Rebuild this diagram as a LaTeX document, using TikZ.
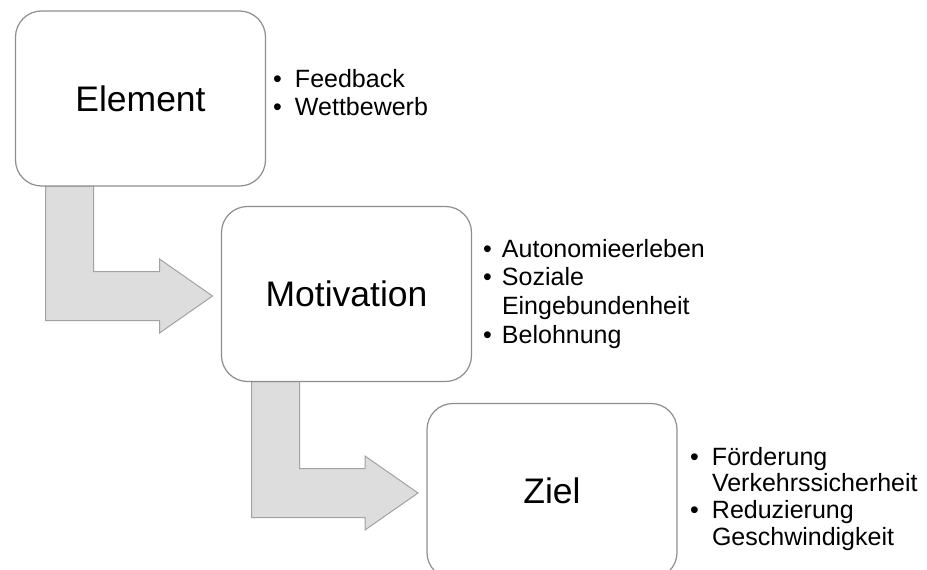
\documentclass[tikz,border=0pt]{standalone}
\usepackage{fontspec}
\setmainfont{Liberation Sans}
\usetikzlibrary{calc}

\definecolor{boxline}{HTML}{8E8E8E}
\definecolor{arrowfill}{HTML}{DDDDDD}
\definecolor{arrowline}{HTML}{A2A2A2}

\pgfdeclarelayer{back}
\pgfsetlayers{back,main}

\tikzset{
  stagebox/.style={draw=boxline, fill=white, line width=1.2pt, rounded corners=26pt,
    minimum width=250pt, minimum height=175pt, inner sep=0pt, outer sep=0pt,
    font=\fontsize{35.5}{42}\selectfont},
  bulletlist/.style={anchor=base west, inner sep=0pt, outer sep=0pt,
    font=\fontsize{25}{28.7}\selectfont},
  bentarrow/.style={fill=arrowfill, draw=arrowline, line width=1pt, line join=miter},
}

% bent block arrow from the bottom of box #1 into the left side of box #2
\newcommand\bentarrow[2]{%
  \path[bentarrow] let \p1=(#1.south west), \p2=(#2.west) in
    (\x1+30,\y1) -- (\x1+78,\y1) -- (\x1+78,\y2+22.5) -- (\x2-62,\y2+22.5)
    -- (\x2-62,\y2+35) -- (\x2-9,\y2-2) -- (\x2-62,\y2-39) -- (\x2-62,\y2-26.5)
    -- (\x1+30,\y2-26.5) -- cycle;}

\begin{document}
\begin{tikzpicture}[x=1pt, y=-1pt]
  \useasboundingbox (0,0) rectangle (927,570);

  % stage boxes
  \node[stagebox] (element) at (140.5,98.5) {Element};
  \node[stagebox] (motivation) at (346.5,294) {Motivation};
  \node[stagebox] (ziel) at (552,491) {Ziel};

  % white page and connectors behind the boxes
  \begin{pgfonlayer}{back}
    \fill[white] (0,0) rectangle (927,570);
    \bentarrow{element}{motivation}
    \bentarrow{motivation}{ziel}
  \end{pgfonlayer}

  % bullet lists
  \node[bulletlist] (elist) at (273,87) {%
    \begin{tabular}[t]{@{}p{22pt}@{}l@{}}
      \textbullet & Feedback\\
      \textbullet & Wettbewerb
    \end{tabular}};
  \node[bulletlist] (mlist) at (483,257) {%
    \begin{tabular}[t]{@{}p{19pt}@{}l@{}}
      \textbullet & Autonomieerleben\\
      \textbullet & Soziale\\
                  & Eingebundenheit\\
      \textbullet & Belohnung
    \end{tabular}};
  \node[bulletlist, font=\fontsize{25}{26.7}\selectfont] (zlist) at (690,465) {%
    \begin{tabular}[t]{@{}p{22pt}@{}l@{}}
      \textbullet & Förderung\\
                  & Verkehrssicherheit\\
      \textbullet & Reduzierung\\
                  & Geschwindigkeit
    \end{tabular}};
\end{tikzpicture}
\end{document}
